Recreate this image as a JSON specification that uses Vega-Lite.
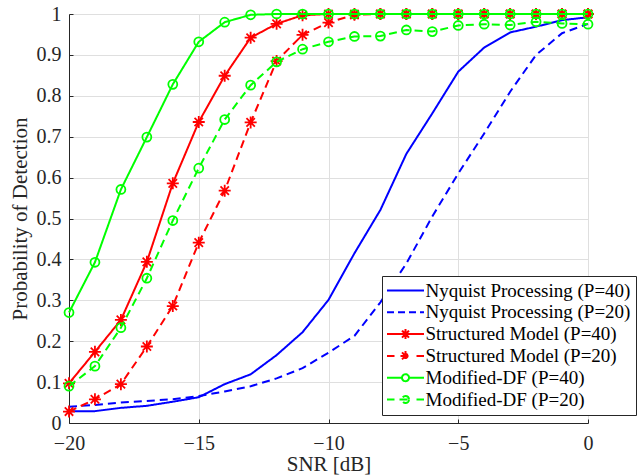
{
  "$schema": "https://vega.github.io/schema/vega-lite/v6.json",
  "width": 519,
  "height": 409,
  "autosize": "none",
  "padding": {"left": 69, "top": 14, "right": 54, "bottom": 53},
  "background": "white",
  "config": {
    "view": {"stroke": null},
    "font": "Liberation Serif",
    "text": {"font": "Liberation Serif"},
    "axis": {
      "labelFont": "Liberation Serif",
      "titleFont": "Liberation Serif",
      "labelFontSize": 20,
      "titleFontSize": 21,
      "titleFontWeight": "normal",
      "labelColor": "#262626",
      "titleColor": "#262626",
      "domainColor": "#262626",
      "domainWidth": 1,
      "tickColor": "#262626",
      "tickWidth": 1,
      "gridColor": "#dfdfdf",
      "gridWidth": 1
    },
    "legend": {"labelFont": "Liberation Serif"}
  },
  "data": {
    "values": [
      {"series": "Nyquist Processing (P=40)", "snr": -20, "pd": 0.029},
      {"series": "Nyquist Processing (P=40)", "snr": -19, "pd": 0.029},
      {"series": "Nyquist Processing (P=40)", "snr": -18, "pd": 0.037},
      {"series": "Nyquist Processing (P=40)", "snr": -17, "pd": 0.042},
      {"series": "Nyquist Processing (P=40)", "snr": -16, "pd": 0.052},
      {"series": "Nyquist Processing (P=40)", "snr": -15, "pd": 0.063},
      {"series": "Nyquist Processing (P=40)", "snr": -14, "pd": 0.095},
      {"series": "Nyquist Processing (P=40)", "snr": -13, "pd": 0.119},
      {"series": "Nyquist Processing (P=40)", "snr": -12, "pd": 0.166},
      {"series": "Nyquist Processing (P=40)", "snr": -11, "pd": 0.222},
      {"series": "Nyquist Processing (P=40)", "snr": -10, "pd": 0.301},
      {"series": "Nyquist Processing (P=40)", "snr": -9, "pd": 0.415},
      {"series": "Nyquist Processing (P=40)", "snr": -8, "pd": 0.521},
      {"series": "Nyquist Processing (P=40)", "snr": -7, "pd": 0.658},
      {"series": "Nyquist Processing (P=40)", "snr": -6, "pd": 0.757},
      {"series": "Nyquist Processing (P=40)", "snr": -5, "pd": 0.859},
      {"series": "Nyquist Processing (P=40)", "snr": -4, "pd": 0.918},
      {"series": "Nyquist Processing (P=40)", "snr": -3, "pd": 0.955},
      {"series": "Nyquist Processing (P=40)", "snr": -2, "pd": 0.969},
      {"series": "Nyquist Processing (P=40)", "snr": -1, "pd": 0.985},
      {"series": "Nyquist Processing (P=40)", "snr": 0, "pd": 0.992},
      {"series": "Nyquist Processing (P=20)", "snr": -20, "pd": 0.040},
      {"series": "Nyquist Processing (P=20)", "snr": -19, "pd": 0.044},
      {"series": "Nyquist Processing (P=20)", "snr": -18, "pd": 0.050},
      {"series": "Nyquist Processing (P=20)", "snr": -17, "pd": 0.054},
      {"series": "Nyquist Processing (P=20)", "snr": -16, "pd": 0.058},
      {"series": "Nyquist Processing (P=20)", "snr": -15, "pd": 0.066},
      {"series": "Nyquist Processing (P=20)", "snr": -14, "pd": 0.077},
      {"series": "Nyquist Processing (P=20)", "snr": -13, "pd": 0.090},
      {"series": "Nyquist Processing (P=20)", "snr": -12, "pd": 0.109},
      {"series": "Nyquist Processing (P=20)", "snr": -11, "pd": 0.134},
      {"series": "Nyquist Processing (P=20)", "snr": -10, "pd": 0.172},
      {"series": "Nyquist Processing (P=20)", "snr": -9, "pd": 0.213},
      {"series": "Nyquist Processing (P=20)", "snr": -8, "pd": 0.295},
      {"series": "Nyquist Processing (P=20)", "snr": -7, "pd": 0.390},
      {"series": "Nyquist Processing (P=20)", "snr": -6, "pd": 0.505},
      {"series": "Nyquist Processing (P=20)", "snr": -5, "pd": 0.610},
      {"series": "Nyquist Processing (P=20)", "snr": -4, "pd": 0.708},
      {"series": "Nyquist Processing (P=20)", "snr": -3, "pd": 0.810},
      {"series": "Nyquist Processing (P=20)", "snr": -2, "pd": 0.900},
      {"series": "Nyquist Processing (P=20)", "snr": -1, "pd": 0.953},
      {"series": "Nyquist Processing (P=20)", "snr": 0, "pd": 0.976},
      {"series": "Structured Model (P=40)", "snr": -20, "pd": 0.097},
      {"series": "Structured Model (P=40)", "snr": -19, "pd": 0.174},
      {"series": "Structured Model (P=40)", "snr": -18, "pd": 0.252},
      {"series": "Structured Model (P=40)", "snr": -17, "pd": 0.394},
      {"series": "Structured Model (P=40)", "snr": -16, "pd": 0.586},
      {"series": "Structured Model (P=40)", "snr": -15, "pd": 0.736},
      {"series": "Structured Model (P=40)", "snr": -14, "pd": 0.849},
      {"series": "Structured Model (P=40)", "snr": -13, "pd": 0.942},
      {"series": "Structured Model (P=40)", "snr": -12, "pd": 0.976},
      {"series": "Structured Model (P=40)", "snr": -11, "pd": 0.997},
      {"series": "Structured Model (P=40)", "snr": -10, "pd": 1.0},
      {"series": "Structured Model (P=40)", "snr": -9, "pd": 1.0},
      {"series": "Structured Model (P=40)", "snr": -8, "pd": 1.0},
      {"series": "Structured Model (P=40)", "snr": -7, "pd": 1.0},
      {"series": "Structured Model (P=40)", "snr": -6, "pd": 1.0},
      {"series": "Structured Model (P=40)", "snr": -5, "pd": 1.0},
      {"series": "Structured Model (P=40)", "snr": -4, "pd": 1.0},
      {"series": "Structured Model (P=40)", "snr": -3, "pd": 1.0},
      {"series": "Structured Model (P=40)", "snr": -2, "pd": 1.0},
      {"series": "Structured Model (P=40)", "snr": -1, "pd": 1.0},
      {"series": "Structured Model (P=40)", "snr": 0, "pd": 1.0},
      {"series": "Structured Model (P=20)", "snr": -20, "pd": 0.028},
      {"series": "Structured Model (P=20)", "snr": -19, "pd": 0.058},
      {"series": "Structured Model (P=20)", "snr": -18, "pd": 0.095},
      {"series": "Structured Model (P=20)", "snr": -17, "pd": 0.187},
      {"series": "Structured Model (P=20)", "snr": -16, "pd": 0.286},
      {"series": "Structured Model (P=20)", "snr": -15, "pd": 0.441},
      {"series": "Structured Model (P=20)", "snr": -14, "pd": 0.568},
      {"series": "Structured Model (P=20)", "snr": -13, "pd": 0.735},
      {"series": "Structured Model (P=20)", "snr": -12, "pd": 0.885},
      {"series": "Structured Model (P=20)", "snr": -11, "pd": 0.949},
      {"series": "Structured Model (P=20)", "snr": -10, "pd": 0.979},
      {"series": "Structured Model (P=20)", "snr": -9, "pd": 0.998},
      {"series": "Structured Model (P=20)", "snr": -8, "pd": 1.0},
      {"series": "Structured Model (P=20)", "snr": -7, "pd": 1.0},
      {"series": "Structured Model (P=20)", "snr": -6, "pd": 1.0},
      {"series": "Structured Model (P=20)", "snr": -5, "pd": 1.0},
      {"series": "Structured Model (P=20)", "snr": -4, "pd": 1.0},
      {"series": "Structured Model (P=20)", "snr": -3, "pd": 1.0},
      {"series": "Structured Model (P=20)", "snr": -2, "pd": 1.0},
      {"series": "Structured Model (P=20)", "snr": -1, "pd": 1.0},
      {"series": "Structured Model (P=20)", "snr": 0, "pd": 1.0},
      {"series": "Modified-DF (P=40)", "snr": -20, "pd": 0.270},
      {"series": "Modified-DF (P=40)", "snr": -19, "pd": 0.393},
      {"series": "Modified-DF (P=40)", "snr": -18, "pd": 0.571},
      {"series": "Modified-DF (P=40)", "snr": -17, "pd": 0.699},
      {"series": "Modified-DF (P=40)", "snr": -16, "pd": 0.828},
      {"series": "Modified-DF (P=40)", "snr": -15, "pd": 0.932},
      {"series": "Modified-DF (P=40)", "snr": -14, "pd": 0.980},
      {"series": "Modified-DF (P=40)", "snr": -13, "pd": 0.998},
      {"series": "Modified-DF (P=40)", "snr": -12, "pd": 1.0},
      {"series": "Modified-DF (P=40)", "snr": -11, "pd": 1.0},
      {"series": "Modified-DF (P=40)", "snr": -10, "pd": 1.0},
      {"series": "Modified-DF (P=40)", "snr": -9, "pd": 1.0},
      {"series": "Modified-DF (P=40)", "snr": -8, "pd": 1.0},
      {"series": "Modified-DF (P=40)", "snr": -7, "pd": 1.0},
      {"series": "Modified-DF (P=40)", "snr": -6, "pd": 1.0},
      {"series": "Modified-DF (P=40)", "snr": -5, "pd": 1.0},
      {"series": "Modified-DF (P=40)", "snr": -4, "pd": 1.0},
      {"series": "Modified-DF (P=40)", "snr": -3, "pd": 1.0},
      {"series": "Modified-DF (P=40)", "snr": -2, "pd": 1.0},
      {"series": "Modified-DF (P=40)", "snr": -1, "pd": 1.0},
      {"series": "Modified-DF (P=40)", "snr": 0, "pd": 1.0},
      {"series": "Modified-DF (P=20)", "snr": -20, "pd": 0.090},
      {"series": "Modified-DF (P=20)", "snr": -19, "pd": 0.139},
      {"series": "Modified-DF (P=20)", "snr": -18, "pd": 0.233},
      {"series": "Modified-DF (P=20)", "snr": -17, "pd": 0.354},
      {"series": "Modified-DF (P=20)", "snr": -16, "pd": 0.495},
      {"series": "Modified-DF (P=20)", "snr": -15, "pd": 0.623},
      {"series": "Modified-DF (P=20)", "snr": -14, "pd": 0.742},
      {"series": "Modified-DF (P=20)", "snr": -13, "pd": 0.826},
      {"series": "Modified-DF (P=20)", "snr": -12, "pd": 0.883},
      {"series": "Modified-DF (P=20)", "snr": -11, "pd": 0.914},
      {"series": "Modified-DF (P=20)", "snr": -10, "pd": 0.932},
      {"series": "Modified-DF (P=20)", "snr": -9, "pd": 0.945},
      {"series": "Modified-DF (P=20)", "snr": -8, "pd": 0.946},
      {"series": "Modified-DF (P=20)", "snr": -7, "pd": 0.961},
      {"series": "Modified-DF (P=20)", "snr": -6, "pd": 0.957},
      {"series": "Modified-DF (P=20)", "snr": -5, "pd": 0.972},
      {"series": "Modified-DF (P=20)", "snr": -4, "pd": 0.975},
      {"series": "Modified-DF (P=20)", "snr": -3, "pd": 0.973},
      {"series": "Modified-DF (P=20)", "snr": -2, "pd": 0.981},
      {"series": "Modified-DF (P=20)", "snr": -1, "pd": 0.977},
      {"series": "Modified-DF (P=20)", "snr": 0, "pd": 0.975}
    ]
  },
  "encoding": {
    "x": {
      "field": "snr", "type": "quantitative",
      "scale": {"domain": [-20, 0], "nice": false, "zero": false},
      "axis": {
        "title": "SNR [dB]",
        "values": [-20, -15, -10, -5, 0],
        "format": "d",
        "labelFont": "Liberation Serif",
        "titleFont": "Liberation Serif",
        "tickSize": -4,
        "labelPadding": 14,
        "titlePadding": 0,
        "labelFlush": false
      }
    },
    "y": {
      "field": "pd", "type": "quantitative",
      "scale": {"domain": [0, 1], "nice": false},
      "axis": {
        "title": "Probability of Detection",
        "values": [0, 0.1, 0.2, 0.3, 0.4, 0.5, 0.6, 0.7, 0.8, 0.9, 1],
        "format": "~g",
        "labelFont": "Liberation Serif",
        "titleFont": "Liberation Serif",
        "tickSize": -4,
        "labelPadding": 12,
        "titlePadding": 6,
        "labelFlush": false
      }
    },
    "color": {
      "field": "series", "type": "nominal",
      "scale": {
        "domain": ["Nyquist Processing (P=40)", "Nyquist Processing (P=20)", "Structured Model (P=40)", "Structured Model (P=20)", "Modified-DF (P=40)", "Modified-DF (P=20)"],
        "range": ["#0000ff", "#0000ff", "#ff0000", "#ff0000", "#00ff00", "#00ff00"]
      },
      "legend": {
        "title": null,
        "orient": "none",
        "legendX": 313,
        "legendY": 262,
        "direction": "vertical",
        "padding": 5,
        "strokeColor": "#262626",
        "fillColor": "white",
        "labelFont": "Liberation Serif",
        "labelFontSize": 19,
        "labelColor": "#000000",
        "labelLimit": 400,
        "symbolSize": 100,
        "symbolStrokeWidth": 2,
        "symbolOffset": 9,
        "labelOffset": 10.5,
        "rowPadding": 1.8,
        "encode": {
          "symbols": {
            "update": {
              "shape": {"signal": "datum.value === 'Nyquist Processing (P=40)' ? 'M-3.7,0H3.7' : datum.value === 'Nyquist Processing (P=20)' ? 'M-3.7,0H-2.3M-1.5,0H-0.1M0.7,0H2.1M2.9,0H3.7' : datum.value === 'Structured Model (P=40)' ? 'M-3.7,0H3.7M0,-1V1M-0.7,-0.7L0.7,0.7M-0.7,0.7L0.7,-0.7' : datum.value === 'Structured Model (P=20)' ? 'M-3.7,0H-2.2M-1,0H1M2.2,0H3.7M0,-1V1M-0.7,-0.7L0.7,0.7M-0.7,0.7L0.7,-0.7' : datum.value === 'Modified-DF (P=40)' ? 'M-3.7,0H-0.7M0.7,0H3.7M0.7,0A0.7,0.7 0 1,1 -0.7,0A0.7,0.7 0 1,1 0.7,0' : 'M-3.7,0H-2.2M-1.2,0H1.2M2.2,0H3.7M0.7,0A0.7,0.7 0 1,1 -0.7,0A0.7,0.7 0 1,1 0.7,0'"},
              "strokeDash": {"value": []},
              "fill": {"value": "transparent"}
            }
          }
        }
      }
    }
  },
  "layer": [
    {
      "transform": [{"filter": "indexof(datum.series, 'Modified') < 0"}],
      "mark": {"type": "line", "strokeWidth": 2, "clip": false},
      "encoding": {
        "strokeDash": {
          "field": "series", "type": "nominal",
          "scale": {
            "domain": ["Nyquist Processing (P=40)", "Nyquist Processing (P=20)", "Structured Model (P=40)", "Structured Model (P=20)", "Modified-DF (P=40)", "Modified-DF (P=20)"],
            "range": [[1, 0], [8, 5], [1, 0], [8, 5], [1, 0], [8, 5]]
          },
          "legend": null
        }
      }
    },
    {
      "transform": [{"filter": "indexof(datum.series, 'Structured') >= 0"}],
      "mark": {"type": "point", "shape": "M-1,0H1M0,-1V1M-0.7,-0.7L0.7,0.7M-0.7,0.7L0.7,-0.7", "size": 144, "filled": false, "strokeWidth": 1.8, "opacity": 1}
    },
    {
      "transform": [{"filter": "indexof(datum.series, 'Modified') >= 0"}],
      "mark": {"type": "line", "strokeWidth": 2, "clip": false},
      "encoding": {
        "strokeDash": {
          "field": "series", "type": "nominal",
          "scale": {
            "domain": ["Nyquist Processing (P=40)", "Nyquist Processing (P=20)", "Structured Model (P=40)", "Structured Model (P=20)", "Modified-DF (P=40)", "Modified-DF (P=20)"],
            "range": [[1, 0], [8, 5], [1, 0], [8, 5], [1, 0], [8, 5]]
          },
          "legend": null
        }
      }
    },
    {
      "transform": [{"filter": "indexof(datum.series, 'Modified') >= 0"}],
      "mark": {"type": "point", "shape": "circle", "size": 80, "filled": false, "strokeWidth": 1.8, "opacity": 1}
    }
  ]
}
